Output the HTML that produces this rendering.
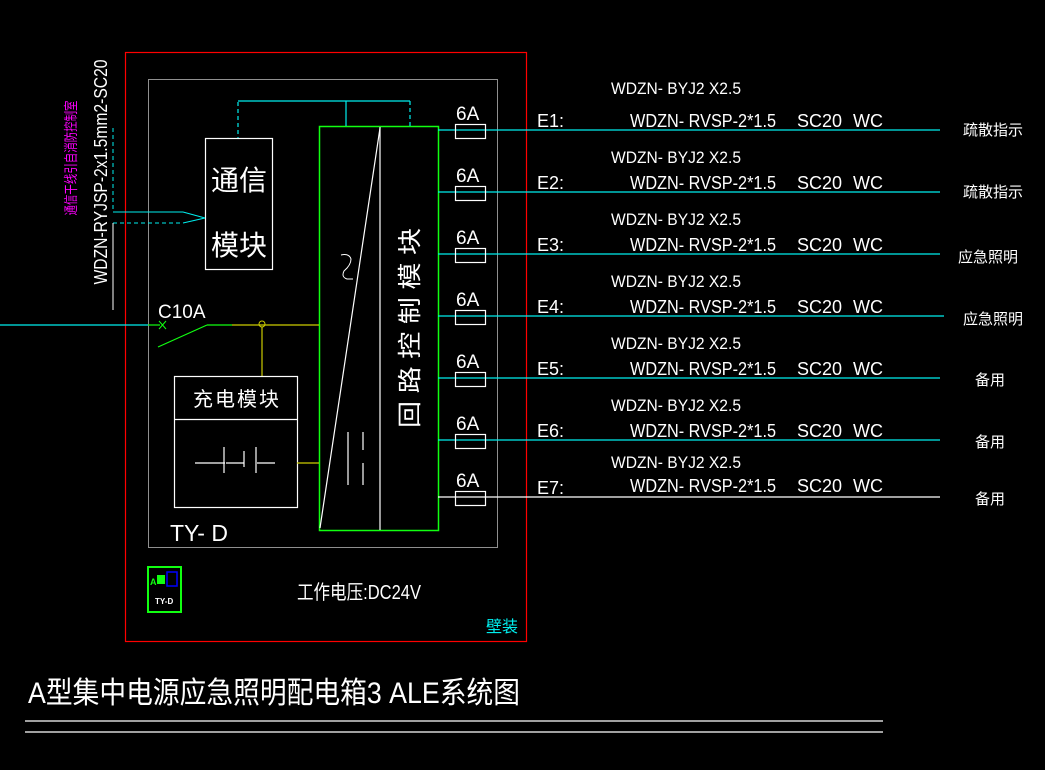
<!DOCTYPE html>
<html><head><meta charset="utf-8"><style>
html,body{margin:0;padding:0;background:#000;width:1045px;height:770px;overflow:hidden}
svg{display:block}
text{font-family:"Liberation Sans","Noto Sans CJK SC",sans-serif;fill:#fff}
</style></head><body>
<svg width="1045" height="770" viewBox="0 0 1045 770" xmlns="http://www.w3.org/2000/svg">
<rect width="1045" height="770" fill="#000"/>
<rect x="125.5" y="52.5" width="401" height="589" fill="none" stroke="#f00" stroke-width="1.2"/>
<rect x="148.5" y="79.5" width="349" height="468" fill="none" stroke="#fff" stroke-width="0.8" opacity="0.7"/>
<rect x="319.5" y="126.5" width="119" height="404" fill="none" stroke="#1f1" stroke-width="1.5"/>
<line x1="380" y1="127" x2="380" y2="530" stroke="#fff" stroke-width="1.2"/>
<line x1="380" y1="128" x2="320" y2="528" stroke="#fff" stroke-width="1.2"/>
<path d="M341 255 q8 -2 10 4 q0 6 -7 12 q-3 6 3 8 l6 0" fill="none" stroke="#fff" stroke-width="1"/>
<line x1="348" y1="432" x2="348" y2="485" stroke="#fff" stroke-width="1.2"/>
<line x1="363" y1="432" x2="363" y2="450" stroke="#fff" stroke-width="1.2"/>
<line x1="363" y1="463" x2="363" y2="485" stroke="#fff" stroke-width="1.2"/>
<text transform="translate(418,328) rotate(-90)" font-size="24" text-anchor="middle" textLength="200" lengthAdjust="spacingAndGlyphs">回 路 控 制 模 块</text>
<rect x="205.5" y="138.5" width="67" height="131" fill="none" stroke="#fff" stroke-width="1.2"/>
<text x="239" y="190" font-size="28" text-anchor="middle">通信</text>
<text x="239" y="255" font-size="28" text-anchor="middle">模块</text>
<line x1="238" y1="102" x2="238" y2="138" stroke="#0ee" stroke-width="1.2" stroke-dasharray="4,3"/>
<line x1="238" y1="101" x2="410" y2="101" stroke="#0ee" stroke-width="1.2"/>
<line x1="346" y1="101" x2="346" y2="126" stroke="#0ee" stroke-width="1.2"/>
<line x1="410" y1="101" x2="410" y2="126" stroke="#0ee" stroke-width="1.2" stroke-dasharray="4,3"/>
<line x1="113" y1="128" x2="113" y2="212" stroke="#0ee" stroke-width="1" stroke-dasharray="4,3"/>
<line x1="113" y1="212" x2="183" y2="212" stroke="#0ee" stroke-width="1"/>
<line x1="113" y1="223" x2="183" y2="223" stroke="#0ee" stroke-width="1" stroke-dasharray="4,3"/>
<path d="M183 212 L205 218 L183 223" fill="none" stroke="#0ee" stroke-width="1"/>
<line x1="113" y1="223" x2="113" y2="310" stroke="#fff" stroke-width="1"/>
<text transform="translate(107,172) rotate(-90)" font-size="18" text-anchor="middle" textLength="225" lengthAdjust="spacingAndGlyphs">WDZN-RYJSP-2x1.5mm2-SC20</text>
<text transform="translate(76,158) rotate(-90)" font-size="14" text-anchor="middle" style="fill:#f0f" textLength="115" lengthAdjust="spacingAndGlyphs">通信干线引自消防控制室</text>
<line x1="0" y1="325" x2="148" y2="325" stroke="#0ee" stroke-width="1.2"/>
<line x1="148" y1="325" x2="160" y2="325" stroke="#1f1" stroke-width="1.2"/>
<path d="M159 321 l7 8 M166 321 l-7 8" stroke="#1f1" stroke-width="1"/>
<line x1="158" y1="347" x2="207" y2="325" stroke="#1f1" stroke-width="1.2"/>
<line x1="207" y1="325" x2="232" y2="325" stroke="#1f1" stroke-width="1.2"/>
<line x1="232" y1="325" x2="319" y2="325" stroke="#cc0" stroke-width="1.2"/>
<circle cx="262" cy="324" r="3" fill="none" stroke="#cc0"/>
<line x1="262" y1="327" x2="262" y2="376" stroke="#cc0" stroke-width="1.2"/>
<text x="158" y="318" font-size="19">C10A</text>
<rect x="174.5" y="376.5" width="123" height="131" fill="none" stroke="#fff" stroke-width="1.2"/>
<line x1="174" y1="419.5" x2="297" y2="419.5" stroke="#fff" stroke-width="1.2"/>
<text x="236" y="406" font-size="20" text-anchor="middle" textLength="86" lengthAdjust="spacing">充电模块</text>
<path d="M195 463 h30 M224 447 v26 M234 463 h10 M244 451 v16 M256 447 v26 M257 463 h18 M226 463 h10" stroke="#fff" stroke-width="1.2" fill="none"/>
<line x1="297" y1="463" x2="319" y2="463" stroke="#cc0" stroke-width="1.2"/>
<text x="170" y="541" font-size="23">TY- D</text>
<rect x="148" y="567" width="33" height="45" fill="none" stroke="#1f1" stroke-width="2"/>
<text x="150" y="585" font-size="9" style="fill:#1f1;font-weight:bold">A</text>
<rect x="157" y="575" width="8" height="9" fill="#1f1"/>
<rect x="167" y="572" width="10" height="14" fill="none" stroke="#00f" stroke-width="1.5"/>
<text x="155" y="604" font-size="8" style="font-weight:bold">TY-D</text>
<text x="297" y="599" font-size="20" textLength="124" lengthAdjust="spacingAndGlyphs">工作电压:DC24V</text>
<text x="486" y="632" font-size="16" style="fill:#0ee">壁装</text>
<g stroke-width="1.2">
<line x1="438" y1="130" x2="940" y2="130" stroke="#0ee"/>
<line x1="438" y1="192" x2="940" y2="192" stroke="#0ee"/>
<line x1="438" y1="254" x2="940" y2="254" stroke="#0ee"/>
<line x1="438" y1="316" x2="944" y2="316" stroke="#0ee"/>
<line x1="438" y1="378" x2="940" y2="378" stroke="#0ee"/>
<line x1="438" y1="440" x2="940" y2="440" stroke="#0ee"/>
<line x1="438" y1="497" x2="940" y2="497" stroke="#fff"/>
</g>
<g fill="none" stroke="#fff" stroke-width="1.2">
<rect x="455.5" y="124.5" width="30" height="14"/>
<rect x="455.5" y="186.5" width="30" height="14"/>
<rect x="455.5" y="248.5" width="30" height="14"/>
<rect x="455.5" y="310.5" width="30" height="14"/>
<rect x="455.5" y="372.5" width="30" height="14"/>
<rect x="455.5" y="434.5" width="30" height="14"/>
<rect x="455.5" y="491.5" width="30" height="14"/>
</g>
<g font-size="19">
<text x="456" y="120">6A</text><text x="456" y="182">6A</text><text x="456" y="244">6A</text>
<text x="456" y="306">6A</text><text x="456" y="368">6A</text><text x="456" y="430">6A</text><text x="456" y="487">6A</text>
</g>
<g font-size="18">
<text x="537" y="127">E1:</text><text x="537" y="189">E2:</text><text x="537" y="251">E3:</text>
<text x="537" y="313">E4:</text><text x="537" y="375">E5:</text><text x="537" y="437">E6:</text><text x="537" y="494">E7:</text>
</g>
<g font-size="17">
<text x="611" y="94" textLength="130" lengthAdjust="spacingAndGlyphs">WDZN- BYJ2 X2.5</text>
<text x="611" y="163" textLength="130" lengthAdjust="spacingAndGlyphs">WDZN- BYJ2 X2.5</text>
<text x="611" y="225" textLength="130" lengthAdjust="spacingAndGlyphs">WDZN- BYJ2 X2.5</text>
<text x="611" y="287" textLength="130" lengthAdjust="spacingAndGlyphs">WDZN- BYJ2 X2.5</text>
<text x="611" y="349" textLength="130" lengthAdjust="spacingAndGlyphs">WDZN- BYJ2 X2.5</text>
<text x="611" y="411" textLength="130" lengthAdjust="spacingAndGlyphs">WDZN- BYJ2 X2.5</text>
<text x="611" y="468" textLength="130" lengthAdjust="spacingAndGlyphs">WDZN- BYJ2 X2.5</text>
</g>
<g font-size="18">
<text x="630" y="127" textLength="146" lengthAdjust="spacingAndGlyphs">WDZN- RVSP-2*1.5</text><text x="797" y="127">SC20</text><text x="853" y="127">WC</text>
<text x="630" y="189" textLength="146" lengthAdjust="spacingAndGlyphs">WDZN- RVSP-2*1.5</text><text x="797" y="189">SC20</text><text x="853" y="189">WC</text>
<text x="630" y="251" textLength="146" lengthAdjust="spacingAndGlyphs">WDZN- RVSP-2*1.5</text><text x="797" y="251">SC20</text><text x="853" y="251">WC</text>
<text x="630" y="313" textLength="146" lengthAdjust="spacingAndGlyphs">WDZN- RVSP-2*1.5</text><text x="797" y="313">SC20</text><text x="853" y="313">WC</text>
<text x="630" y="375" textLength="146" lengthAdjust="spacingAndGlyphs">WDZN- RVSP-2*1.5</text><text x="797" y="375">SC20</text><text x="853" y="375">WC</text>
<text x="630" y="437" textLength="146" lengthAdjust="spacingAndGlyphs">WDZN- RVSP-2*1.5</text><text x="797" y="437">SC20</text><text x="853" y="437">WC</text>
<text x="630" y="492" textLength="146" lengthAdjust="spacingAndGlyphs">WDZN- RVSP-2*1.5</text><text x="797" y="492">SC20</text><text x="853" y="492">WC</text>
</g>
<g font-size="15">
<text x="963" y="135">疏散指示</text><text x="963" y="197">疏散指示</text>
<text x="958" y="262">应急照明</text><text x="963" y="324">应急照明</text>
<text x="975" y="385">备用</text><text x="975" y="447">备用</text><text x="975" y="504">备用</text>
</g>
<text x="28" y="703" font-size="30" textLength="492" lengthAdjust="spacingAndGlyphs">A型集中电源应急照明配电箱3 ALE系统图</text>
<line x1="25" y1="721" x2="883" y2="721" stroke="#fff" stroke-width="1.2"/>
<line x1="25" y1="732" x2="883" y2="732" stroke="#fff" stroke-width="1.2"/>
</svg>
</body></html>
